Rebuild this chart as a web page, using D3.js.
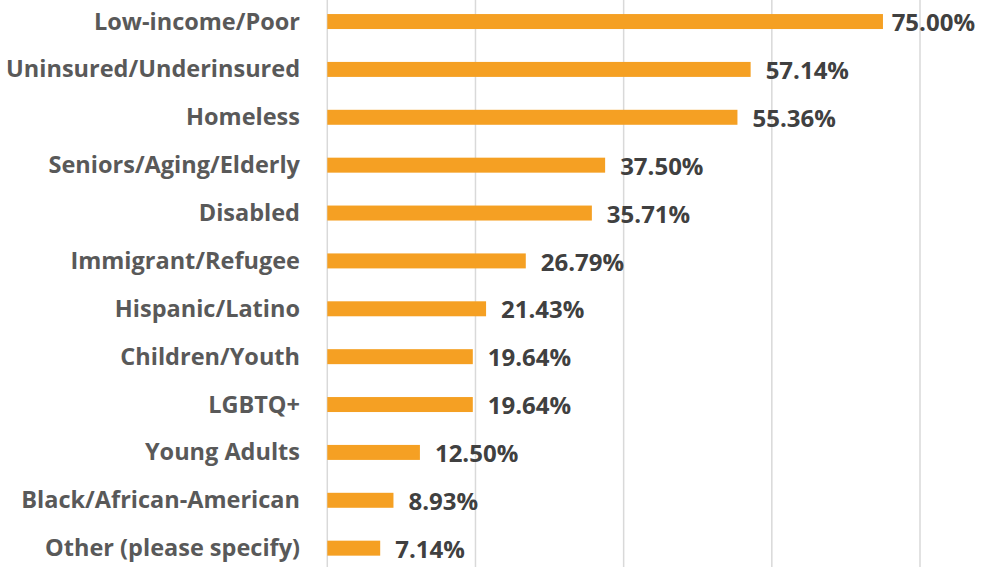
<!DOCTYPE html>
<html><head><meta charset="utf-8">
<script src="https://cdn.jsdelivr.net/npm/d3@7"></script>
<style>body{margin:0;background:#fff}svg{display:block}</style>
</head><body>
<script>
const categories = ["Low-income/Poor","Uninsured/Underinsured","Homeless","Seniors/Aging/Elderly","Disabled","Immigrant/Refugee","Hispanic/Latino","Children/Youth","LGBTQ+","Young Adults","Black/African-American","Other (please specify)"];
const values = [75.00,57.14,55.36,37.50,35.71,26.79,21.43,19.64,19.64,12.50,8.93,7.14];
const gridTicks = [0,20,40,60,80];

const W = 984, H = 567;
const svg = d3.select("body").append("svg").attr("width",W).attr("height",H);
const x = d3.scaleLinear().domain([0,80]).range([327.3,920]);
const y = d3.scaleBand().domain(categories).range([-2.4,572.1]).paddingInner(0.687).paddingOuter(0.3435);

svg.append("g").selectAll("line").data(gridTicks).join("line")
  .attr("x1",d=>x(d)).attr("x2",d=>x(d)).attr("y1",0).attr("y2",H)
  .attr("stroke","#d9d9d9").attr("stroke-width",1.5);

svg.append("g").selectAll("rect").data(values).join("rect")
  .attr("x",x(0)).attr("y",(d,i)=>y(categories[i]))
  .attr("width",d=>x(d)-x(0)).attr("height",y.bandwidth())
  .attr("fill","#F5A023");

const font = "'Open Sans', sans-serif";
svg.append("g").selectAll("text").data(categories).join("text")
  .attr("x",300).attr("y",d=>y(d)+y.bandwidth()/2).attr("dy","0.34em")
  .attr("text-anchor","end").attr("font-family",font).attr("font-weight","bold")
  .attr("font-size",23.5).attr("fill","#595959").text(d=>d);

const vl = svg.append("g").selectAll("text").data(values).join("text")
  .attr("x",d=>x(d)+15).attr("y",(d,i)=>y(categories[i])+y.bandwidth()/2+1.5).attr("dy","0.34em")
  .attr("font-family",font).attr("font-weight","bold")
  .attr("font-size",24).attr("fill","#404040").text(d=>d.toFixed(2)+"%");
// keep labels inside the chart area
vl.each(function(d){
  const w = this.getComputedTextLength();
  const maxX = W - 9 - w;
  if (x(d)+15 > maxX) d3.select(this).attr("x", Math.max(x(d)+7, maxX));
});
</script>
</body></html>
